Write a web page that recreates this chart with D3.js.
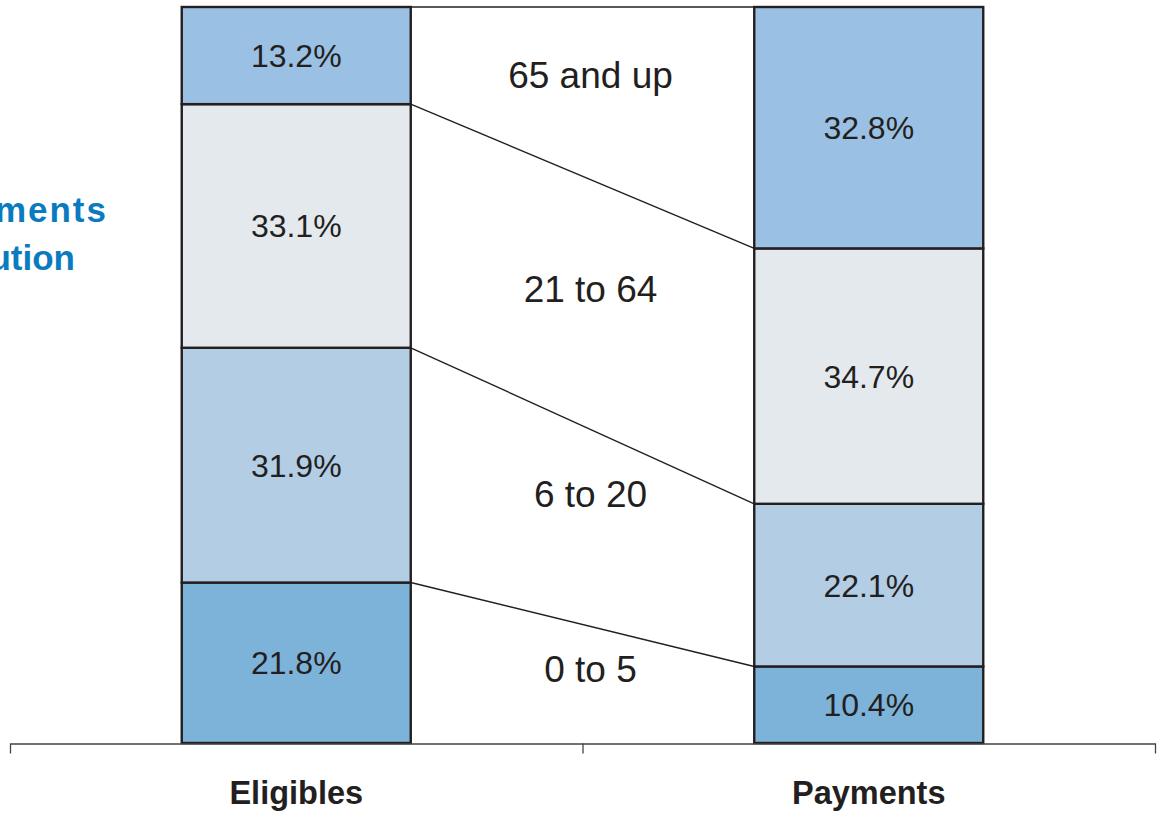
<!DOCTYPE html>
<html>
<head>
<meta charset="utf-8">
<script src="https://cdn.jsdelivr.net/npm/d3@7"></script>
<style>
  body { margin: 0; background: #fff; }
  svg { display: block; font-family: "Liberation Sans", Arial, sans-serif; }
</style>
</head>
<body>
<div id="chart"></div>
<script>
// age bands, bottom to top
var groups = ["Eligibles", "Payments"];
var ageBands = ["0 to 5", "6 to 20", "21 to 64", "65 and up"];
var eligibles = [21.8, 31.9, 33.1, 13.2];
var payments = [10.4, 22.1, 34.7, 32.8];

var bandColors = ["#7db2d9", "#b2cde4", "#e4e9ee", "#9ac0e3"];
var ink = "#231f20";

var width = 1161, height = 815;

var svg = d3.select("#chart")
            .append("svg")
            .attr("width", width)
            .attr("height", height);

// scales
var xScale = d3.scaleBand()
               .domain(groups)
               .range([10, 1155]);

var yScale = d3.scaleLinear()
               .domain([0, 100])
               .range([743, 7]);

var barW = xScale.bandwidth() * 0.4;
function barLeft(g) { return xScale(g) + (xScale.bandwidth() - barW) / 2; }

// stacked segments for each column
var series = { "Eligibles": eligibles, "Payments": payments };
var segments = [];
groups.forEach(function(g) {
    var vals = series[g];
    var tops = d3.cumsum(vals);
    vals.forEach(function(v, i) {
        segments.push({ group: g, band: i, value: v, y0: tops[i] - v, y1: tops[i] });
    });
});

// connector lines between the band boundaries
var cumE = Array.from(d3.cumsum(eligibles));
var cumP = Array.from(d3.cumsum(payments));
svg.selectAll(".connector")
   .data(d3.range(cumE.length))
   .enter()
   .append("line")
   .attr("class", "connector")
   .attr("x1", barLeft("Eligibles") + barW)
   .attr("y1", function(i) { return yScale(cumE[i]); })
   .attr("x2", barLeft("Payments"))
   .attr("y2", function(i) { return yScale(cumP[i]); })
   .attr("stroke", ink)
   .attr("stroke-width", 1.4);

svg.selectAll(".seg")
   .data(segments)
   .enter()
   .append("rect")
   .attr("class", "seg")
   .attr("x", function(d) { return barLeft(d.group); })
   .attr("y", function(d) { return yScale(d.y1); })
   .attr("width", barW)
   .attr("height", function(d) { return yScale(d.y0) - yScale(d.y1); })
   .attr("fill", function(d) { return bandColors[d.band]; })
   .attr("stroke", ink)
   .attr("stroke-width", 2.4);

svg.selectAll(".seg-label")
   .data(segments)
   .enter()
   .append("text")
   .attr("class", "seg-label")
   .attr("x", function(d) { return barLeft(d.group) + barW / 2; })
   .attr("y", function(d) { return yScale((d.y0 + d.y1) / 2); })
   .attr("dy", "0.36em")
   .attr("text-anchor", "middle")
   .style("font-size", "32px")
   .style("fill", ink)
   .text(function(d) { return d.value.toFixed(1) + "%"; });

// age band names in the gap between the columns
var bandLabelY = [682, 507, 302, 88];
svg.selectAll(".band-label")
   .data(ageBands)
   .enter()
   .append("text")
   .attr("class", "band-label")
   .attr("x", (barLeft("Eligibles") + barW + barLeft("Payments")) / 2 + 8)
   .attr("y", function(d, i) { return bandLabelY[i]; })
   .attr("text-anchor", "middle")
   .style("font-size", "37px")
   .style("fill", ink)
   .text(function(d) { return d; });

// x axis
var axis = svg.append("g")
   .attr("transform", "translate(0,743.5)")
   .call(d3.axisBottom(xScale).tickSize(0).tickSizeOuter(10).tickPadding(37));
axis.select(".domain").attr("stroke", "#444").attr("stroke-width", 1.3);
axis.selectAll("text")
    .style("font-size", "32.5px")
    .style("font-weight", "bold")
    .style("font-family", "'Liberation Sans', Arial, sans-serif")
    .style("fill", ink);

axis.append("line")
    .attr("x1", xScale("Payments") + 0.5)
    .attr("x2", xScale("Payments") + 0.5)
    .attr("y1", 0)
    .attr("y2", 10)
    .attr("stroke", "#444")
    .attr("stroke-width", 1.3);

// side title, runs off the left edge
svg.append("text")
   .attr("x", 108)
   .attr("y", 222)
   .attr("text-anchor", "end")
   .style("font-size", "35px")
   .style("font-weight", "bold")
   .style("letter-spacing", "2px")
   .style("fill", "#0b7bc0")
   .text("Payments");

svg.append("text")
   .attr("x", 75)
   .attr("y", 270)
   .attr("text-anchor", "end")
   .style("font-size", "35px")
   .style("font-weight", "bold")
   .style("fill", "#0b7bc0")
   .text("Distribution");
</script>
</body>
</html>
